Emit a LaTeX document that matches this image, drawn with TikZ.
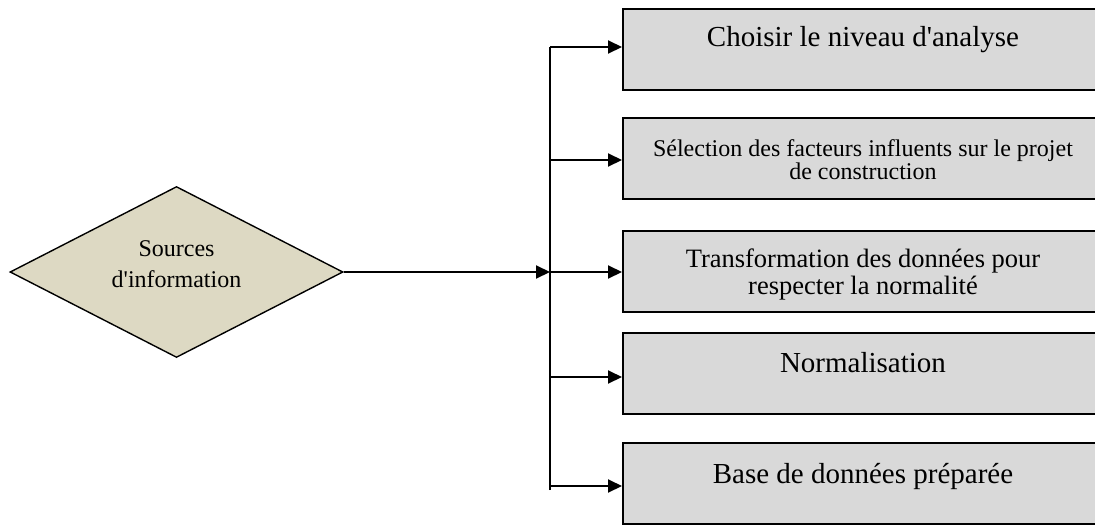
\documentclass[tikz,border=0pt]{standalone}
\usepackage{fontspec}
\setmainfont{Liberation Serif}[Ligatures=TeXOff]
\usetikzlibrary{shapes.geometric,arrows.meta}
\definecolor{boxgray}{RGB}{217,217,217}
\definecolor{sourcetan}{RGB}{221,217,195}
\begin{document}
\begin{tikzpicture}[x=1pt,y=-1pt,
  stepbox/.style={rectangle, draw=black, line width=2pt, fill=boxgray,
    anchor=north west, minimum width=480pt, inner xsep=0pt, inner ysep=0pt,
    font=\fontsize{29}{33}\selectfont},
  source/.style={diamond, draw=black, line width=1.4pt, fill=sourcetan,
    minimum width=333pt, minimum height=171pt, aspect=1.95, inner sep=2pt},
  conn/.style={line width=2pt, -{Triangle[length=14pt,width=13pt]}},
  spine/.style={line width=1.8pt}
]
\useasboundingbox (0,0) rectangle (1095,525);
\clip (0,0) rectangle (1095,525);

% source of information
\node[source, text height=50pt, text depth=20pt] (src) at (176.5,272)
  {\parbox[b]{140pt}{\centering\fontsize{24}{31}\selectfont Sources\\d'information}};

% processing steps
\node[stepbox, text height=37pt, text depth=44pt] (b1) at (622,8)
  {Choisir le niveau d'analyse};
\node[stepbox, text height=61pt, text depth=20pt] (b2) at (622,117)
  {\parbox[b]{470pt}{\centering\fontsize{24}{23}\selectfont S\'election des facteurs influents sur le projet\\de construction}};
\node[stepbox, text height=63pt, text depth=18pt] (b3) at (622,230)
  {\parbox[b]{470pt}{\centering\fontsize{26.5}{27}\selectfont Transformation des donn\'ees pour\\respecter la normalit\'e}};
\node[stepbox, text height=39pt, text depth=42pt] (b4) at (622,332)
  {Normalisation};
\node[stepbox, text height=40pt, text depth=41pt] (b5) at (622,442)
  {Base de donn\'ees pr\'epar\'ee};

% junction points on the distribution line
\coordinate (j1) at (550,47);
\coordinate (j2) at (550,160);
\coordinate (j3) at (550,272);
\coordinate (j4) at (550,377);
\coordinate (j5) at (550,486);
\coordinate (jb) at (550,490);

% connectors
\draw[conn] (src.east) -- (j3);
\draw[spine] (jb) -- (j1);
\draw[conn] (j1) -- (j1 -| b1.west);
\draw[conn] (j2) -- (j2 -| b2.west);
\draw[conn] (j3) -- (j3 -| b3.west);
\draw[conn] (j4) -- (j4 -| b4.west);
\draw[conn] (j5) -- (j5 -| b5.west);
\end{tikzpicture}
\end{document}
